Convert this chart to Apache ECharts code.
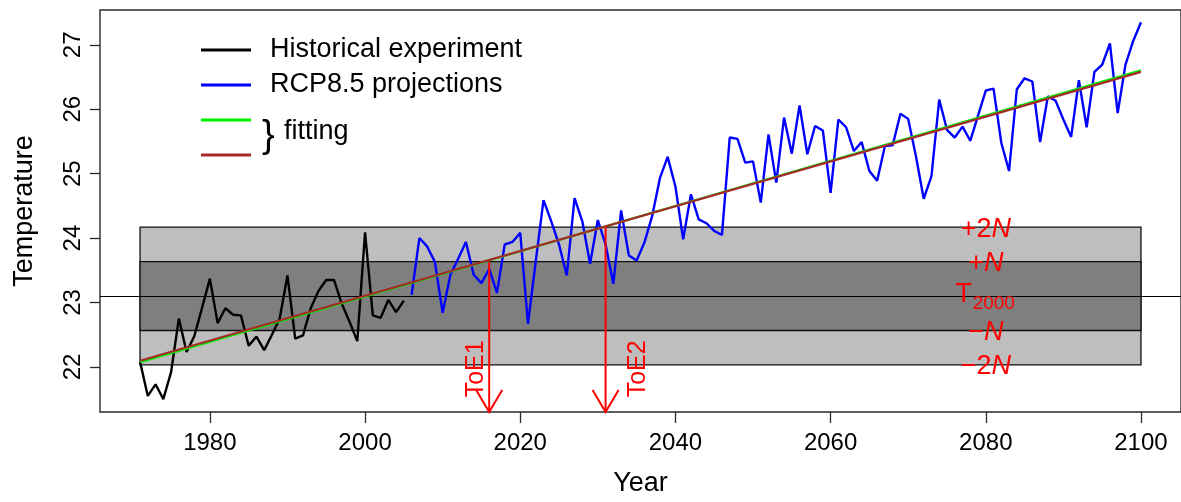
<!DOCTYPE html>
<html><head><meta charset="utf-8">
<script src="https://cdn.jsdelivr.net/npm/echarts@6/dist/echarts.min.js"></script>
<style>html,body{margin:0;padding:0;background:#fff}#c{width:1181px;height:502px}</style>
</head><body><div id="c"></div>
<script>
const histYears = [1971,1972,1973,1974,1975,1976,1977,1978,1979,1980,1981,1982,1983,1984,1985,1986,1987,1988,1989,1990,1991,1992,1993,1994,1995,1996,1997,1998,1999,2000,2001,2002,2003,2004,2005];
const histValues = [22.08,21.55,21.73,21.50,21.92,22.75,22.23,22.48,22.92,23.37,22.68,22.91,22.81,22.80,22.33,22.47,22.26,22.50,22.75,23.42,22.44,22.49,22.91,23.18,23.35,23.35,22.98,22.70,22.40,24.09,22.80,22.76,23.04,22.85,23.03];
const rcpYears = [2006,2007,2008,2009,2010,2011,2012,2013,2014,2015,2016,2017,2018,2019,2020,2021,2022,2023,2024,2025,2026,2027,2028,2029,2030,2031,2032,2033,2034,2035,2036,2037,2038,2039,2040,2041,2042,2043,2044,2045,2046,2047,2048,2049,2050,2051,2052,2053,2054,2055,2056,2057,2058,2059,2060,2061,2062,2063,2064,2065,2066,2067,2068,2069,2070,2071,2072,2073,2074,2075,2076,2077,2078,2079,2080,2081,2082,2083,2084,2085,2086,2087,2088,2089,2090,2091,2092,2093,2094,2095,2096,2097,2098,2099,2100];
const rcpValues = [23.12,24.00,23.87,23.63,22.84,23.43,23.68,23.94,23.43,23.30,23.52,23.15,23.90,23.94,24.08,22.67,23.64,24.59,24.26,23.90,23.42,24.62,24.26,23.60,24.28,23.90,23.29,24.43,23.73,23.65,23.93,24.34,24.93,25.26,24.80,23.98,24.68,24.29,24.23,24.11,24.05,25.56,25.54,25.17,25.19,24.55,25.61,24.86,25.87,25.31,26.06,25.30,25.74,25.67,24.70,25.84,25.72,25.35,25.49,25.04,24.89,25.43,25.44,25.93,25.85,25.27,24.61,24.96,26.15,25.68,25.56,25.73,25.51,25.90,26.29,26.32,25.48,25.04,26.31,26.48,26.43,25.49,26.20,26.13,25.84,25.57,26.45,25.72,26.58,26.69,27.02,25.94,26.69,27.06,27.35];
const fitYears = [1971, 2100];
const fitGreen = [22.075, 26.605];
const fitBrown = [22.095, 26.58];
const T2000 = 23.10;
const N = 0.535;
const bandYears = [1971, 2100];
const toeYears = [2016, 2031];
const toeLevels = [T2000 + N, T2000 + 2 * N];
const toeLabels = ['ToE1', 'ToE2'];
const bandLabelYear = 2080;
const bandLabelTexts = ['+2{i|N}', '+{i|N}', 'T2000', '\u2212{i|N}', '\u22122{i|N}'];
const bandLabelValues = [T2000 + 2 * N, T2000 + N, T2000, T2000 - N, T2000 - 2 * N];
const xTicks = [1980, 2000, 2020, 2040, 2060, 2080, 2100];
const yTicks = [22, 23, 24, 25, 26, 27];
const xMin = 1965.84, xMax = 2105.16, yMin = 21.3, yMax = 27.54;

const FF = '"Liberation Sans", Arial, Helvetica, sans-serif';
const chart = echarts.init(document.getElementById('c'), null, {renderer: 'canvas'});

const pairs = (xs, ys) => xs.map((x, i) => [x, ys[i]]);

const option = {
  animation: false,
  backgroundColor: '#fff',
  textStyle: {fontFamily: FF},
  grid: {left: 100, top: 10, width: 1083, bottom: 86, show: true, borderColor: '#2a2a2a', borderWidth: 1.4, backgroundColor: 'transparent'},
  xAxis: {
    type: 'value', min: xMin, max: xMax,
    name: 'Year', nameLocation: 'middle', nameGap: 58,
    nameTextStyle: {fontSize: 27, color: '#000', fontFamily: FF},
    axisLine: {show: false},
    axisTick: {show: true, length: 11, customValues: xTicks, lineStyle: {color: '#2a2a2a', width: 1.3}},
    axisLabel: {customValues: xTicks, fontSize: 24, color: '#000', margin: 19, fontFamily: FF, formatter: v => String(Math.round(v))},
    splitLine: {show: false}
  },
  yAxis: {
    type: 'value', min: yMin, max: yMax,
    name: 'Temperature', nameLocation: 'middle', nameGap: 62,
    nameTextStyle: {fontSize: 27, color: '#000', fontFamily: FF},
    axisLine: {show: false},
    axisTick: {show: true, length: 10, customValues: yTicks, lineStyle: {color: '#2a2a2a', width: 1.3}},
    axisLabel: {customValues: yTicks, fontSize: 24, color: '#000', margin: 15, rotate: 90, fontFamily: FF, formatter: v => String(Math.round(v))},
    splitLine: {show: false}
  },
  legend: {
    orient: 'vertical', left: 196, top: 30, itemWidth: 50, itemHeight: 3, itemGap: 5,
    icon: 'rect', selectedMode: false,
    data: ['Historical experiment', 'RCP8.5 projections', 'fitGreen', 'fitBrown'],
    formatter: n => (n.indexOf('fit') === 0 ? ' ' : n),
    textStyle: {fontSize: 27, color: '#000', lineHeight: 30, padding: [0, 0, 0, 14], fontFamily: FF}
  },
  graphic: [
    {type: 'text', x: 262, y: 137, style: {text: '}', fontSize: 38, fill: '#000', fontFamily: FF, align: 'left', verticalAlign: 'middle'}},
    {type: 'text', x: 284, y: 132, style: {text: 'fitting', fontSize: 27, fill: '#000', fontFamily: FF, align: 'left', verticalAlign: 'middle'}}
  ],
  series: [
    {
      type: 'custom', name: 'bands', z: 1, silent: true,
      data: [[bandYears[0], bandYears[1], T2000 - 2 * N, T2000 + 2 * N, 0], [bandYears[0], bandYears[1], T2000 - N, T2000 + N, 1]],
      encode: {x: [0, 1], y: [2, 3]},
      renderItem: (params, api) => {
        const p0 = api.coord([api.value(0), api.value(3)]);
        const p1 = api.coord([api.value(1), api.value(2)]);
        return {type: 'rect', shape: {x: p0[0], y: p0[1], width: p1[0] - p0[0], height: p1[1] - p0[1]},
          style: {fill: api.value(4) === 0 ? '#bebebe' : '#7f7f7f', stroke: '#111', lineWidth: 1.3}};
      },
      markLine: {silent: true, symbol: 'none', label: {show: false}, lineStyle: {color: '#000', width: 1.2, type: 'solid'}, data: [{yAxis: T2000}], z: 2}
    },
    {type: 'line', name: 'Historical experiment', data: pairs(histYears, histValues), symbol: 'none', z: 3,
      lineStyle: {color: '#000', width: 2.4}, itemStyle: {color: '#000'}},
    {type: 'line', name: 'RCP8.5 projections', data: pairs(rcpYears, rcpValues), symbol: 'none', z: 3,
      lineStyle: {color: '#0000ff', width: 2.4}, itemStyle: {color: '#0000ff'}},
    {type: 'line', name: 'fitGreen', data: pairs(fitYears, fitGreen), symbol: 'none', z: 4,
      lineStyle: {color: '#00ee00', width: 2.2}, itemStyle: {color: '#00ee00'}},
    {type: 'line', name: 'fitBrown', data: pairs(fitYears, fitBrown), symbol: 'none', z: 5,
      lineStyle: {color: '#a52a2a', width: 2.2}, itemStyle: {color: '#a52a2a'}},
    {
      type: 'custom', name: 'toe', z: 6, silent: true,
      data: pairs(toeYears, toeLevels),
      encode: {x: 0, y: 1},
      renderItem: (params, api) => {
        const x = api.value(0), top = api.value(1), i = params.dataIndex;
        const p0 = api.coord([x, top]);
        const p1 = api.coord([x, yMin]);
        const lp = api.coord([x, 21.97]);
        return {type: 'group', children: [
          {type: 'line', shape: {x1: p0[0], y1: p0[1], x2: p1[0], y2: p1[1]}, style: {stroke: '#ff0000', lineWidth: 2}},
          {type: 'polyline', shape: {points: [[p1[0] - 13, p1[1] - 22], [p1[0], p1[1]], [p1[0] + 13, p1[1] - 22]]}, style: {stroke: '#ff0000', lineWidth: 2, fill: 'none'}},
          {type: 'text', x: lp[0] + (i === 0 ? -13 : 33), y: lp[1], rotation: Math.PI / 2,
            style: {text: toeLabels[i], fill: '#ff0000', fontSize: 25, fontFamily: FF, align: 'center', verticalAlign: 'middle'}}
        ]};
      }
    },
    {
      type: 'custom', name: 'bandLabels', z: 7, silent: true,
      data: bandLabelValues.map((v, i) => [bandLabelYear, v, i]),
      encode: {x: 0, y: 1},
      renderItem: (params, api) => {
        const p = api.coord([api.value(0), api.value(1)]);
        const t = bandLabelTexts[api.value(2)];
        if (t === 'T2000') {
          return {type: 'group', children: [
            {type: 'text', x: p[0] - 22, y: p[1] - 1, style: {text: 'T', fill: '#ff0000', fontSize: 27, fontFamily: FF, align: 'center', verticalAlign: 'middle'}},
            {type: 'text', x: p[0] + 8, y: p[1] + 8, style: {text: '2000', fill: '#ff0000', fontSize: 19, fontFamily: FF, align: 'center', verticalAlign: 'middle'}}
          ]};
        }
        return {type: 'text', x: p[0], y: p[1] + 2, style: {text: t, fill: '#ff0000', fontSize: 27, fontFamily: FF, align: 'center', verticalAlign: 'middle',
          rich: {i: {fontStyle: 'italic', fill: '#ff0000', fontSize: 27, fontFamily: FF}}}};
      }
    }
  ]
};
chart.setOption(option);
</script></body></html>
